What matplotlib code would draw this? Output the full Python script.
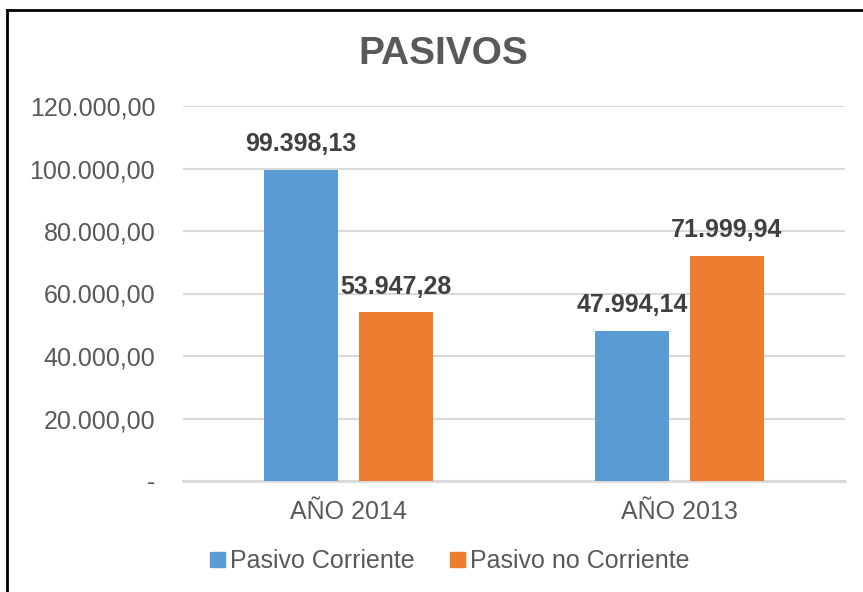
import matplotlib.pyplot as plt
from matplotlib.ticker import FuncFormatter
from matplotlib.lines import Line2D
from matplotlib.patches import Patch
import numpy as np

plt.rcParams['font.family'] = ['Liberation Sans', 'DejaVu Sans']

categories = ['AÑO 2014', 'AÑO 2013']
pasivo_corriente = [99398.13, 47994.14]
pasivo_no_corriente = [53947.28, 71999.94]
series_names = ['Pasivo Corriente', 'Pasivo no Corriente']
yticks = [0, 20000, 40000, 60000, 80000, 100000, 120000]

blue = '#5B9BD5'
orange = '#ED7D31'
gray = '#595959'
grid_color = '#D9D9D9'


def es_format(v):
    # 99398.13 -> 99.398,13
    s = f"{v:,.2f}"
    return s.replace(',', 'X').replace('.', ',').replace('X', '.')


def tick_fmt(v, pos):
    if v == 0:
        return '-'
    return es_format(v)


fig = plt.figure(figsize=(8.63, 5.92), dpi=100)
ax = fig.add_axes([183 / 863, 1 - 481 / 592, (845 - 183) / 863, (481 - 106) / 592])

x = np.arange(len(categories))
w = 0.222
off = 0.143
b1 = ax.bar(x - off, pasivo_corriente, w, color=blue, zorder=3)
b2 = ax.bar(x + off, pasivo_no_corriente, w, color=orange, zorder=3)

for bars, vals in [(b1, pasivo_corriente), (b2, pasivo_no_corriente)]:
    for r, v in zip(bars, vals):
        ax.annotate(es_format(v), (r.get_x() + r.get_width() / 2, v),
                    xytext=(0, 10), textcoords='offset points',
                    ha='center', va='bottom', fontsize=18, fontweight='bold',
                    color='#404040', zorder=4)

ax.set_xlim(-0.5, 1.5)
ax.set_ylim(0, 120000)
ax.set_yticks(yticks)
ax.yaxis.set_major_formatter(FuncFormatter(tick_fmt))
ax.set_xticks(x)
ax.set_xticklabels(categories)
ax.tick_params(axis='y', length=0, pad=20, labelsize=18, labelcolor=gray)
ax.tick_params(axis='x', length=0, pad=14, labelsize=18, labelcolor=gray)
ax.grid(axis='y', color=grid_color, linewidth=1.5, zorder=0)
for s in ['top', 'right', 'left']:
    ax.spines[s].set_visible(False)
ax.spines['bottom'].set_color(grid_color)
ax.spines['bottom'].set_linewidth(2)

fig.text(443 / 863, 1 - 54 / 592, 'PASIVOS', ha='center', va='center',
         fontsize=28, fontweight='bold', color=gray)

handles = [Patch(color=blue), Patch(color=orange)]
fig.legend(handles, series_names, loc='center', bbox_to_anchor=(450 / 863, 1 - 561 / 592),
           ncol=2, frameon=False, fontsize=18, labelcolor=gray,
           handlelength=0.6, handleheight=0.55, handletextpad=0.2, columnspacing=1.4)

# chart frame (left and top edges visible)
fig.add_artist(Line2D([7 / 863, 7 / 863], [0, 1 - 10 / 592], color='black', linewidth=2,
                      transform=fig.transFigure))
fig.add_artist(Line2D([7 / 863, 1], [1 - 10 / 592, 1 - 10 / 592], color='black', linewidth=2,
                      transform=fig.transFigure))

fig.savefig('out.png', dpi=100)
